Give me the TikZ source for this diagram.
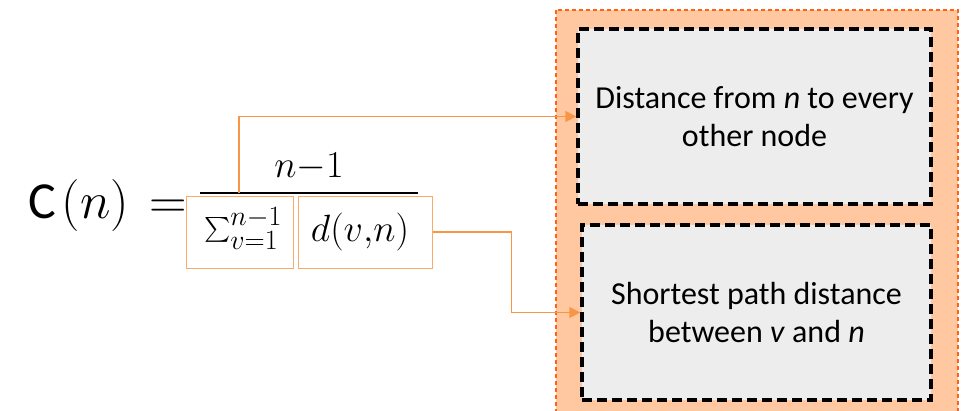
\RequirePackage{fix-cm}
\documentclass[tikz,border=0pt]{standalone}
\usepackage{exscale}
\usepackage{fontspec}
\setmainfont{Carlito}
\usetikzlibrary{arrows.meta}

\definecolor{peach}{RGB}{255,200,161}
\definecolor{darkorange}{RGB}{255,98,20}
\definecolor{linkorange}{RGB}{247,150,70}
\definecolor{boxgray}{RGB}{237,237,237}

\begin{document}
\begin{tikzpicture}[x=1pt, y=-1pt,
		infobox/.style={draw=black, fill=boxgray, line width=3.4pt, dash pattern=on 10pt off 5pt,
			align=center, font=\fontsize{32}{38}\selectfont},
		termbox/.style={draw=linkorange!80, line width=1pt, minimum height=72pt},
		mathterm/.style={inner sep=0pt, font=\fontsize{38}{44}\selectfont},
		link/.style={draw=linkorange, line width=1.6pt, -{Triangle[length=11pt, width=11pt]}}]
		\useasboundingbox (0,0) rectangle (961,410);

		% outer frame, runs past the bottom edge
		\draw[darkorange, fill=peach, line width=1.4pt, dash pattern=on 4pt off 3pt]
			(556,10) rectangle (958,430);
		\node[infobox, minimum width=353pt, minimum height=175pt] (every) at (754.5,116.5)
			{Distance from \textit{n} to every\\other node};
		\node[infobox, minimum width=349pt, minimum height=175pt] (short) at (756.5,312.5)
			{Shortest path distance\\between \textit{v} and \textit{n}};

		% formula
		\node[anchor=base west, inner sep=0pt, font=\fontsize{52}{60}\selectfont] (lhs) at (28,218)
			{C$\mkern2mu(n)\mkern2mu=$};
		\node[mathterm, anchor=base] (num) at (309,177) {$n{-}1$};
		\draw[line width=2pt] (200,193) -- (418,193);
		\coordinate (bar) at (239,193);
		\node[mathterm, anchor=base, font=\fontsize{40}{46}\selectfont] (sum) at (243,240)
			{$\textstyle\sum_{v=1}^{n-1}$};
		\node[mathterm, anchor=base] (dist) at (360,241) {$d(v{,}n)$};
		\node[termbox, minimum width=107pt] (sumbox) at (239.5,232) {};
		\node[termbox, minimum width=134pt] (distbox) at (365,232) {};

		% links to the explanations
		\draw[link] (bar) |- (every.west);
		\draw[link] (distbox.east) -- ++(79,0) |- (short.west);
	\end{tikzpicture}
\end{document}
